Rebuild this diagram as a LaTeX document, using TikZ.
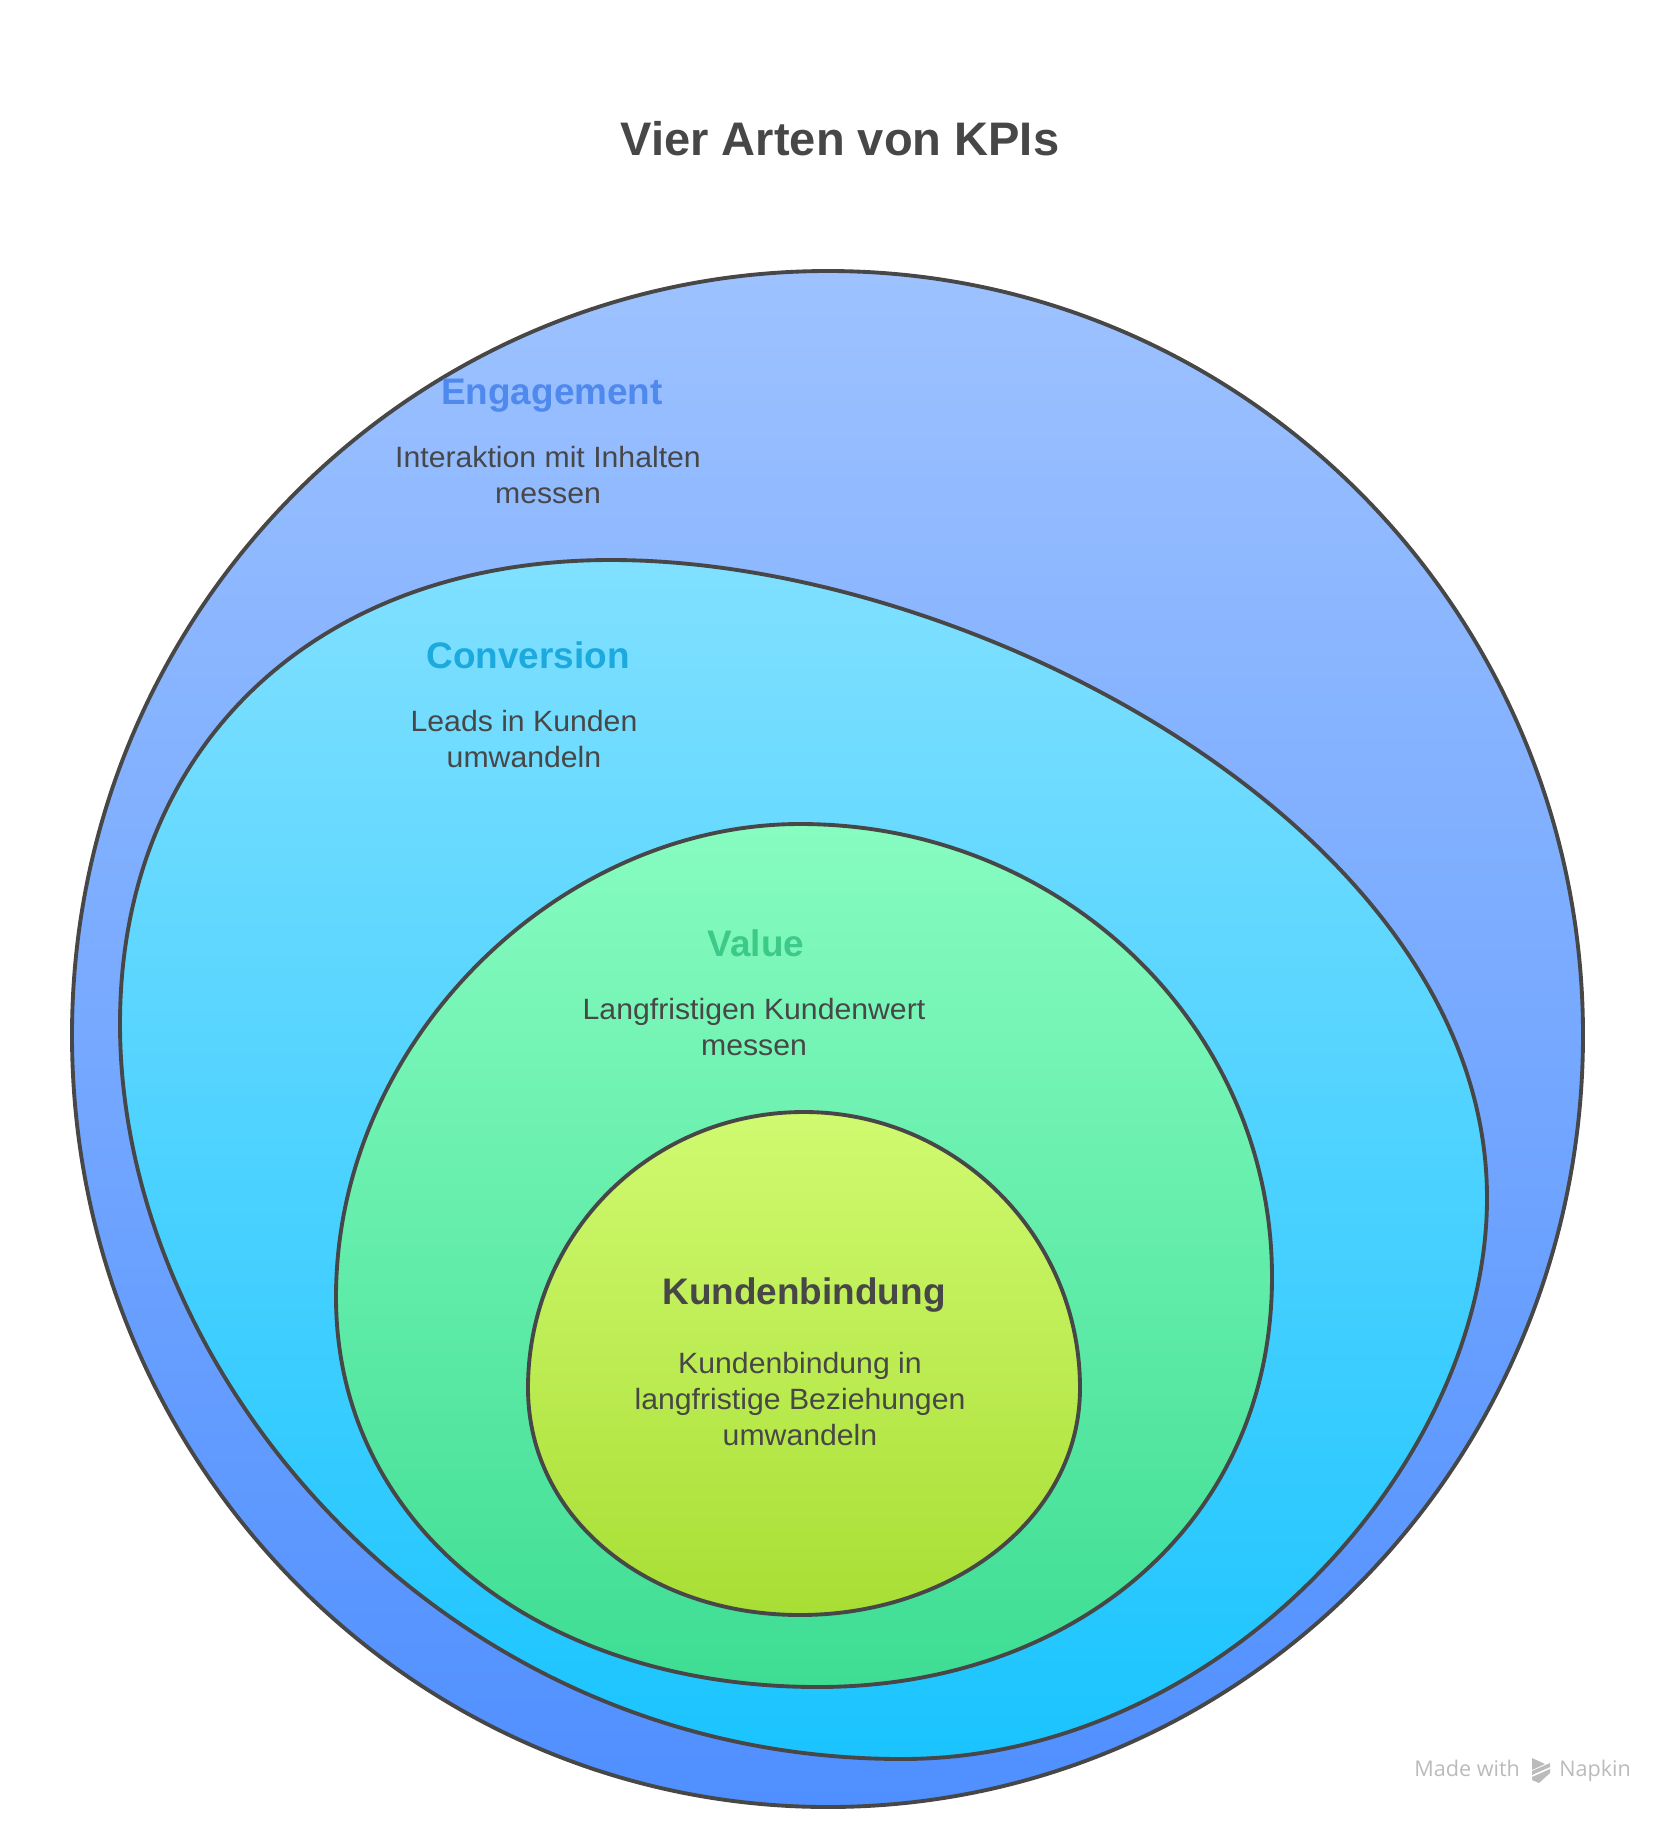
\documentclass[tikz,border=0pt]{standalone}
\usepackage{fontspec}
\setmainfont{Liberation Sans}
\newfontfamily\bodyfont[FakeStretch=1.03]{Liberation Sans}
\newfontfamily\napkinfont{Open Sans}
\definecolor{inkgray}{HTML}{474747}
\definecolor{markgray}{HTML}{BBBBBB}
\definecolor{engagetop}{HTML}{9DC2FF}
\definecolor{engagelow}{HTML}{4F8FFF}
\definecolor{engagetext}{HTML}{5089EE}
\definecolor{convtop}{HTML}{80E0FF}
\definecolor{convlow}{HTML}{1AC4FF}
\definecolor{convtext}{HTML}{1CA9DD}
\definecolor{valuetop}{HTML}{87FCC0}
\definecolor{valuelow}{HTML}{3EDD94}
\definecolor{valuetext}{HTML}{3CC98A}
\definecolor{loyaltop}{HTML}{D0FA70}
\definecolor{loyallow}{HTML}{A8DE34}
\tikzset{
  blob/.style={draw=inkgray, line width=2.9pt},
  headtext/.style={inner sep=0pt, anchor=base, font=\fontsize{27.7}{32}\selectfont\bfseries},
  bodytext/.style={inner sep=0pt, align=center, text=inkgray, font=\bodyfont\fontsize{22}{27}\selectfont},
  marktext/.style={inner sep=0pt, anchor=base west, text=markgray, font=\napkinfont\fontsize{16.2}{20}\selectfont},
}
\begin{document}
\begin{tikzpicture}[x=0.75pt, y=-0.75pt]
        \useasboundingbox (0,0) rectangle (1680,1824);

        % Title
        \node [inner sep=0pt, anchor=base, text=inkgray, font=\fontsize{35.3}{40}\selectfont\bfseries] (title) at (840,155) {Vier Arten von KPIs};

        % Engagement
        \path [blob, top color=engagetop, bottom color=engagelow]
            (828,271) .. controls (1245,271) and (1583,613) .. (1583,1035)
            .. controls (1583,1461) and (1245,1807) .. (828,1807)
            .. controls (411,1807) and (72,1461) .. (72,1035)
            .. controls (72,613) and (411,271) .. (828,271) -- cycle;

        % Conversion
        \path [blob, top color=convtop, bottom color=convlow]
            (611,560) .. controls (970,560) and (1487,830) .. (1487,1198)
            .. controls (1487,1462) and (1222,1759) .. (902,1759)
            .. controls (444,1759) and (120,1376) .. (120,1024)
            .. controls (120,746) and (316,560) .. (611,560) -- cycle;

        % Value
        \path [blob, top color=valuetop, bottom color=valuelow]
            (800,824) .. controls (1063,824) and (1272,1027) .. (1272,1277)
            .. controls (1272,1526) and (1071,1687) .. (818,1687)
            .. controls (542,1687) and (336,1528) .. (336,1297)
            .. controls (336,1040) and (560,824) .. (800,824) -- cycle;

        % Kundenbindung
        \path [blob, top color=loyaltop, bottom color=loyallow]
            (804,1112) .. controls (955,1112) and (1080,1235) .. (1080,1388)
            .. controls (1080,1520) and (950,1615) .. (800,1615)
            .. controls (650,1615) and (528,1520) .. (528,1388)
            .. controls (528,1235) and (650,1112) .. (804,1112) -- cycle;

        % Labels
        \node [headtext, text=engagetext] (engagehead) at (552,404) {Engagement};
        \node [bodytext] (engagebody) at (548,475) {Interaktion mit Inhalten\\messen};
        \node [headtext, text=convtext] (convhead) at (528,668) {Conversion};
        \node [bodytext] (convbody) at (524,739) {Leads in Kunden\\umwandeln};
        \node [headtext, text=valuetext] (valuehead) at (756,956) {Value};
        \node [bodytext] (valuebody) at (754,1027) {Langfristigen Kundenwert\\messen};
        \node [headtext, text=inkgray] (loyalhead) at (804,1304) {Kundenbindung};
        \node [bodytext] (loyalbody) at (800,1399) {Kundenbindung in\\langfristige Beziehungen\\umwandeln};

        % Made with
        \node [marktext] (markleft) at (1414,1776) {Made with};
        \node [marktext] (markright) at (1559,1776) {Napkin};
        \fill [markgray] (1532,1758) -- (1545,1764) -- (1532,1770) -- cycle;
        \fill [markgray] (1532,1771) -- (1550,1763) -- (1550,1767) -- (1532,1775) -- cycle;
        \fill [markgray] (1532,1777) -- (1550,1769) -- (1550,1773) -- (1539,1783) -- (1532,1780) -- cycle;
\end{tikzpicture}
\end{document}
